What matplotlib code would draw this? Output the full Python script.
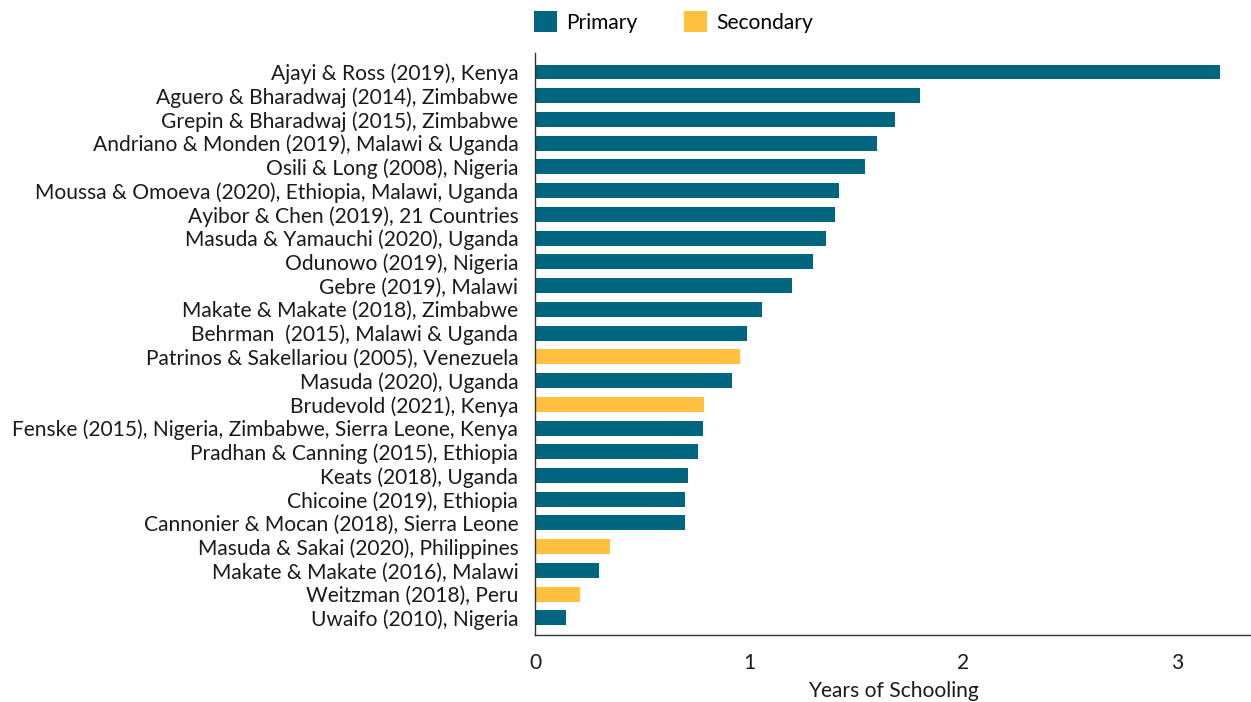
import matplotlib
matplotlib.use("Agg")
import matplotlib.pyplot as plt
from matplotlib.patches import Patch

plt.rcParams['font.family'] = ['Lato', 'DejaVu Sans']

studies = [
    "Ajayi & Ross (2019), Kenya",
    "Aguero & Bharadwaj (2014), Zimbabwe",
    "Grepin & Bharadwaj (2015), Zimbabwe",
    "Andriano & Monden (2019), Malawi & Uganda",
    "Osili & Long (2008), Nigeria",
    "Moussa & Omoeva (2020), Ethiopia, Malawi, Uganda",
    "Ayibor & Chen (2019), 21 Countries",
    "Masuda & Yamauchi (2020), Uganda",
    "Odunowo (2019), Nigeria",
    "Gebre (2019), Malawi",
    "Makate & Makate (2018), Zimbabwe",
    "Behrman  (2015), Malawi & Uganda",
    "Patrinos & Sakellariou (2005), Venezuela",
    "Masuda (2020), Uganda",
    "Brudevold (2021), Kenya",
    "Fenske (2015), Nigeria, Zimbabwe, Sierra Leone, Kenya",
    "Pradhan & Canning (2015), Ethiopia",
    "Keats (2018), Uganda",
    "Chicoine (2019), Ethiopia",
    "Cannonier & Mocan (2018), Sierra Leone",
    "Masuda & Sakai (2020), Philippines",
    "Makate & Makate (2016), Malawi",
    "Weitzman (2018), Peru",
    "Uwaifo (2010), Nigeria",
]
years = [3.20, 1.80, 1.68, 1.60, 1.54, 1.42, 1.40, 1.36, 1.30, 1.20, 1.06, 0.99,
         0.96, 0.92, 0.79, 0.785, 0.76, 0.715, 0.70, 0.70, 0.35, 0.30, 0.21, 0.145]
level = ["Primary"] * 12 + ["Secondary", "Primary", "Secondary"] + ["Primary"] * 5 + \
        ["Secondary", "Primary", "Secondary", "Primary"]

colors = {"Primary": "#00667f", "Secondary": "#ffbf3f"}
fs = 15.1
tc = "#1a1a1a"

fig = plt.figure(figsize=(12.51, 7.02), dpi=100)
ax = fig.add_axes([535 / 1251, 67 / 702, 1 - 535 / 1251, (635 - 53) / 702])

ypos = list(range(len(studies)))
ax.barh(ypos, years, height=0.63, color=[colors[l] for l in level])
ax.set_ylim(23.72, -0.8)
ax.set_xlim(0, 3.345)
ax.set_yticks(ypos)
ax.set_yticklabels(studies, fontsize=fs, color=tc)
ax.set_xticks([0, 1, 2, 3])
ax.set_xticklabels(["0", "1", "2", "3"], fontsize=fs, color=tc)
ax.tick_params(axis='both', length=0)
ax.tick_params(axis='x', pad=13)
ax.tick_params(axis='y', pad=12)
ax.set_xlabel("Years of Schooling", fontsize=fs, color=tc, labelpad=6)
for s in ["top", "right"]:
    ax.spines[s].set_visible(False)
for s in ["left", "bottom"]:
    ax.spines[s].set_color("#333333")
    ax.spines[s].set_linewidth(1.0)

handles = [Patch(facecolor=colors["Primary"], label="Primary"),
           Patch(facecolor=colors["Secondary"], label="Secondary")]
fig.legend(handles=handles, loc="center left", bbox_to_anchor=(517 / 1251, 1 - 22 / 702),
           ncol=2, frameon=False, fontsize=fs, handlelength=1.1, handleheight=1.1,
           columnspacing=2.2, handletextpad=0.45, borderpad=0.3)

fig.savefig("out.png", dpi=100)
